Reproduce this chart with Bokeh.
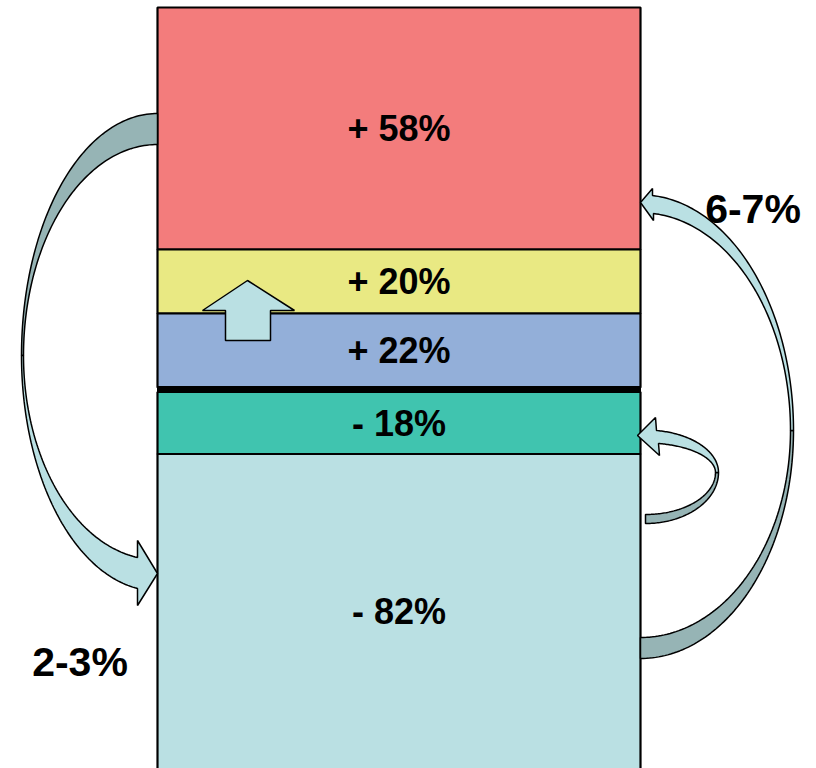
import numpy as np
from bokeh.plotting import figure
from bokeh.models import Range1d, ColumnDataSource
from bokeh.core.properties import value
from bokeh.embed import file_html
from bokeh.resources import INLINE

# ---- data -------------------------------------------------------------
segment_labels = ["+ 58%", "+ 20%", "+ 22%", "- 18%", "- 82%"]
segment_heights = [242, 64, 74, 62, 315]          # diagram units
segment_colors = ["#F37C7C", "#E9E983", "#93AFD9", "#40C4AF", "#BAE0E3"]
flow_labels = ["6-7%", "2-3%"]

# ---- styles -------------------------------------------------------------
FONT = "Liberation Sans"
LIGHT = "#BAE0E3"
DARK = "#96B4B5"

W, H = 816, 768
p = figure(width=W, height=H, output_backend="svg", toolbar_location=None,
           x_range=Range1d(0, W), y_range=Range1d(H, 0),
           x_axis_location=None, y_axis_location=None, min_border=0)
p.grid.visible = False
p.outline_line_color = None
p.background_fill_color = "white"

# ---- stacked segments ---------------------------------------------------
bar_left, bar_right, bar_top, gap = 157, 640, 7, 4.5
tops = []
y = bar_top
for i, h in enumerate(segment_heights):
    if i == 3:
        y += gap
    tops.append(y)
    y += h
bottoms = [t + h for t, h in zip(tops, segment_heights)]
centers = [(t + b) / 2 for t, b in zip(tops, bottoms)]

src = ColumnDataSource(dict(top=tops, bottom=bottoms, color=segment_colors,
                            label=segment_labels, yc=centers,
                            xc=[(bar_left + bar_right) / 2] * len(tops)))
p.quad(left=bar_left, right=bar_right, top="top", bottom="bottom", source=src,
       fill_color="color", line_color="black", line_width=2.2)
# thick separator between the two stacks
p.quad(left=bar_left, right=bar_right, top=bottoms[2] - 1, bottom=tops[3] + 0.5,
       fill_color="black", line_color="black", line_width=1)

# ---- helper geometry ----------------------------------------------------
def arc(cx, cy, rx, ry, t0, t1, n=80):
    t = np.radians(np.linspace(t0, t1, n))
    return list(cx + rx * np.cos(t)), list(cy + ry * np.sin(t))

def fit(cx, cy, rx, px, py, lower):
    c = np.clip((px - cx) / rx, -1, 1)
    t = np.degrees(np.arccos(c))
    if not lower:
        t = -t
    s = np.sin(np.radians(t))
    return t, (py - cy) / s

def draw(xs, ys, color):
    p.patch(xs, ys, fill_color=color, line_color="black", line_width=1.5)

# left arrow (top of red -> bottom segment)
cx, cy = 157, 355
ox, oy = arc(cx, cy, 136, 242, 270, 180)
ix, iy = arc(cx, cy, 134, 211, 180, 270)
draw(ox + ix, oy + iy, DARK)
to, ryo = fit(cx, cy, 136, 137, 588, True)
ti, ryi = fit(cx, cy, 134, 137, 557, True)
ox, oy = arc(cx, cy, 136, ryo, 180, to)
ix, iy = arc(cx, cy, 134, ryi, ti, 180)
draw(ox + [137, 157, 137] + ix, oy + [605, 573, 540] + iy, LIGHT)

# right big arrow (bottom segment -> red)
cx, cy = 640, 430
ox, oy = arc(cx, cy, 153, 228, 0, 90)
ix, iy = arc(cx, cy, 150, 207, 90, 0)
draw(ox + ix, oy + iy, DARK)
to, ryo = fit(cx, cy, 153, 652, 195, False)
ti, ryi = fit(cx, cy, 150, 653, 213, False)
ox, oy = arc(cx, cy, 153, ryo, 0, to)
ix, iy = arc(cx, cy, 150, ryi, ti, 0)
draw(ox + [652, 640, 653] + ix, oy + [188, 202, 220] + iy, LIGHT)

# small right arrow (bottom segment -> green)
cx, cy = 645, 472
ox, oy = arc(cx, cy, 73, 51, 0, 90)
ix, iy = arc(cx, cy, 70, 42, 90, 0)
draw(ox + ix, oy + iy, DARK)
to, ryo = fit(cx, cy, 73, 656, 430, False)
ti, ryi = fit(cx, cy, 70, 658, 443, False)
ox, oy = arc(cx, cy, 73, ryo, 0, to)
ix, iy = arc(cx, cy, 70, ryi, ti, 0)
draw(ox + [655, 637, 659] + ix, oy + [417, 435, 455] + iy, LIGHT)

# block up arrow
draw([247, 294, 270, 270, 225, 225, 202], [280, 310, 310, 340, 340, 310, 310], LIGHT)

# ---- texts --------------------------------------------------------------
p.text(x="xc", y="yc", text="label", source=src, text_align="center",
       text_baseline="middle", text_font=value(FONT), text_font_style="bold",
       text_font_size="36px", text_color="black")
p.text(x=[752.5, 79.5], y=[208, 661], text=flow_labels, text_align="center",
       text_baseline="middle", text_font=value(FONT), text_font_style="bold",
       text_font_size="41px", text_color="black")

open("out.html", "w").write(file_html(p, INLINE))
